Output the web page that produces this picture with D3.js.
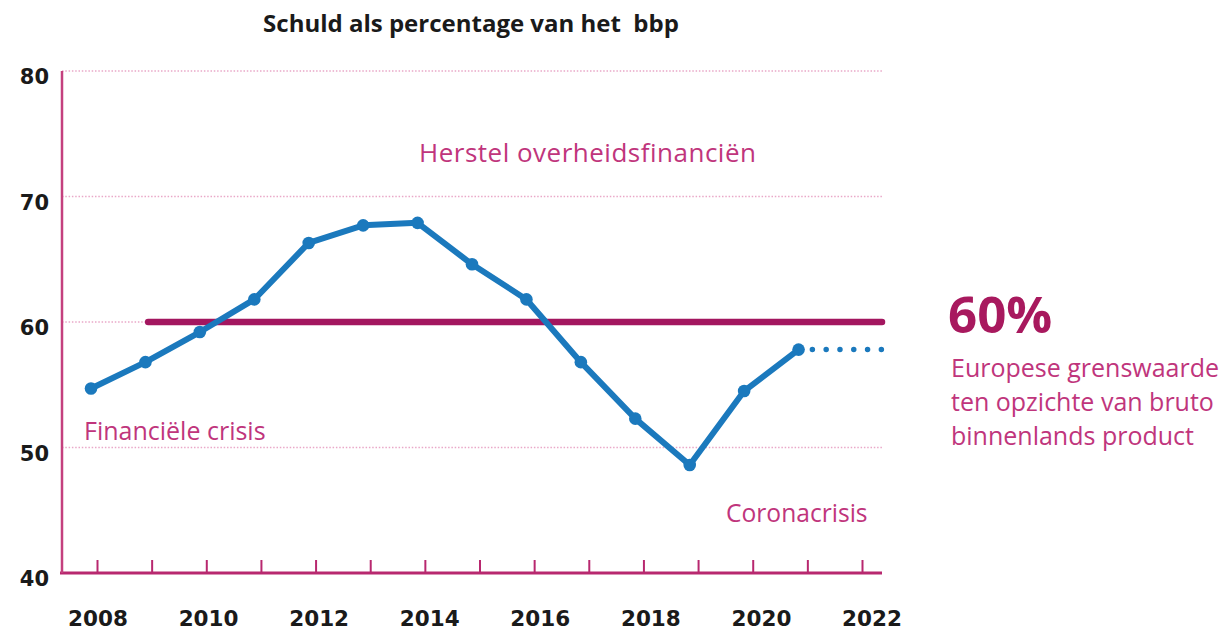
<!DOCTYPE html>
<html>
<head>
<meta charset="utf-8">
<script src="https://cdn.jsdelivr.net/npm/d3@7"></script>
<style>
  body { margin: 0; background: #fff; }
  svg { display: block; }
  .num { font-family: "DejaVu Sans", sans-serif; font-weight: bold; fill: #1a1a1a; }
  .note { font-family: "Open Sans", sans-serif; fill: #c0357c; }
</style>
</head>
<body>
<div id="chart"></div>
<script>
// data
var years = [2008, 2009, 2010, 2011, 2012, 2013, 2014, 2015, 2016, 2017, 2018, 2019, 2020, 2021];
var debt = [54.7, 56.8, 59.2, 61.8, 66.3, 67.7, 67.9, 64.6, 61.8, 56.8, 52.3, 48.6, 54.5, 57.8];
var forecastYears = [2021, 2022.6];
var forecast = [57.8, 57.8];
var yTicks = [40, 50, 60, 70, 80];
var tickYears = d3.range(2008, 2023);
var labelYears = [2008, 2010, 2012, 2014, 2016, 2018, 2020, 2022];
var limit = 60;
var limitFrom = 2009.05;
var titleText = 'Schuld als percentage van het  bbp';
var sideLines = ['Europese grenswaarde', 'ten opzichte van bruto', 'binnenlands product'];

var width = 1220, height = 632;
var plotLeft = 62, plotRight = 882, plotTop = 71, plotBottom = 573;

var svg = d3.select('#chart').append('svg')
    .attr('width', width)
    .attr('height', height);

var y = d3.scaleLinear().domain([40, 80]).range([plotBottom, plotTop]);
var xTick = d3.scaleLinear().domain([2008, 2022]).range([97, 862]);
var xData = d3.scaleLinear().domain([2008, 2022]).range([91, 853]);
var xLabel = d3.scaleLinear().domain([2008, 2022]).range([98, 872]);

// title (keeps the double space)
svg.append('text')
    .attr('x', 471).attr('y', 32)
    .attr('text-anchor', 'middle')
    .style('white-space', 'pre')
    .style('font-family', '"Open Sans", sans-serif')
    .style('font-weight', 'bold')
    .style('font-size', '24px')
    .style('fill', '#1a1a1a')
    .text(titleText);

// dotted grid
svg.append('g').selectAll('line')
    .data(yTicks.filter(function (d) { return d > 40; }))
    .enter().append('line')
    .attr('x1', plotLeft).attr('x2', plotRight)
    .attr('y1', function (d) { return y(d); })
    .attr('y2', function (d) { return y(d); })
    .attr('stroke', '#e9a8c8')
    .attr('stroke-width', 1.5)
    .attr('stroke-dasharray', '1.5,1.8');

// y labels
svg.append('g').selectAll('text')
    .data(yTicks)
    .enter().append('text')
    .attr('class', 'num')
    .attr('x', 49)
    .attr('y', function (d) { return y(d) + 13; })
    .attr('text-anchor', 'end')
    .style('font-size', '21px')
    .text(function (d) { return d; });

// x axis with ticks pointing up
var xAxis = d3.axisBottom(xTick).tickValues(tickYears).tickSize(-13).tickFormat('');
var xg = svg.append('g')
    .attr('transform', 'translate(0,' + plotBottom + ')')
    .call(xAxis);
xg.select('.domain').remove();
xg.selectAll('.tick line').attr('stroke', '#b8286f').attr('stroke-width', 2);
svg.append('line')
    .attr('x1', plotLeft - 2).attr('x2', plotRight)
    .attr('y1', plotBottom).attr('y2', plotBottom)
    .attr('stroke', '#b8286f').attr('stroke-width', 3);
svg.append('line')
    .attr('x1', plotLeft).attr('x2', plotLeft)
    .attr('y1', plotTop).attr('y2', plotBottom)
    .attr('stroke', '#c4407e').attr('stroke-width', 2.5);

// year labels
svg.append('g').selectAll('text')
    .data(labelYears)
    .enter().append('text')
    .attr('class', 'num')
    .attr('x', function (d) { return xLabel(d); })
    .attr('y', 626)
    .attr('text-anchor', 'middle')
    .style('font-size', '21.5px')
    .text(function (d) { return d; });

// 60% limit line
svg.append('line')
    .attr('x1', xData(limitFrom)).attr('x2', plotRight)
    .attr('y1', y(limit)).attr('y2', y(limit))
    .attr('stroke', '#a3165f')
    .attr('stroke-width', 6.5)
    .attr('stroke-linecap', 'round');

// debt line
var line = d3.line()
    .x(function (d) { return xData(d[0]); })
    .y(function (d) { return y(d[1]); });
var pts = d3.zip(years, debt);

svg.append('path')
    .datum(pts)
    .attr('d', line)
    .attr('fill', 'none')
    .attr('stroke', '#1b79bd')
    .attr('stroke-width', 6)
    .attr('stroke-linejoin', 'round');

svg.append('path')
    .datum(d3.zip(forecastYears, forecast))
    .attr('d', line)
    .attr('fill', 'none')
    .attr('stroke', '#1b79bd')
    .attr('stroke-width', 5.5)
    .attr('stroke-linecap', 'round')
    .attr('stroke-dasharray', '0,13.8');

svg.append('g').selectAll('circle')
    .data(pts)
    .enter().append('circle')
    .attr('cx', function (d) { return xData(d[0]); })
    .attr('cy', function (d) { return y(d[1]); })
    .attr('r', 6.3)
    .attr('fill', '#1b79bd');

// annotations
function note(txt, x, yy, size, spacing) {
    svg.append('text').attr('class', 'note')
        .attr('x', x).attr('y', yy)
        .style('font-size', size + 'px')
        .style('letter-spacing', (spacing || 0) + 'px')
        .text(txt);
}
note('Herstel overheidsfinanciën', 419, 162, 26, 0.5);
note('Financiële crisis', 84, 440, 25);
note('Coronacrisis', 726, 522, 24.6);

svg.append('text')
    .attr('x', 948).attr('y', 333)
    .style('font-family', '"Open Sans", sans-serif')
    .style('font-weight', 'bold')
    .style('font-size', '51px')
    .style('fill', '#a8195e')
    .text('60%');

sideLines.forEach(function (t, i) {
    note(t, 951, 377 + i * 34, 25);
});
</script>
</body>
</html>
